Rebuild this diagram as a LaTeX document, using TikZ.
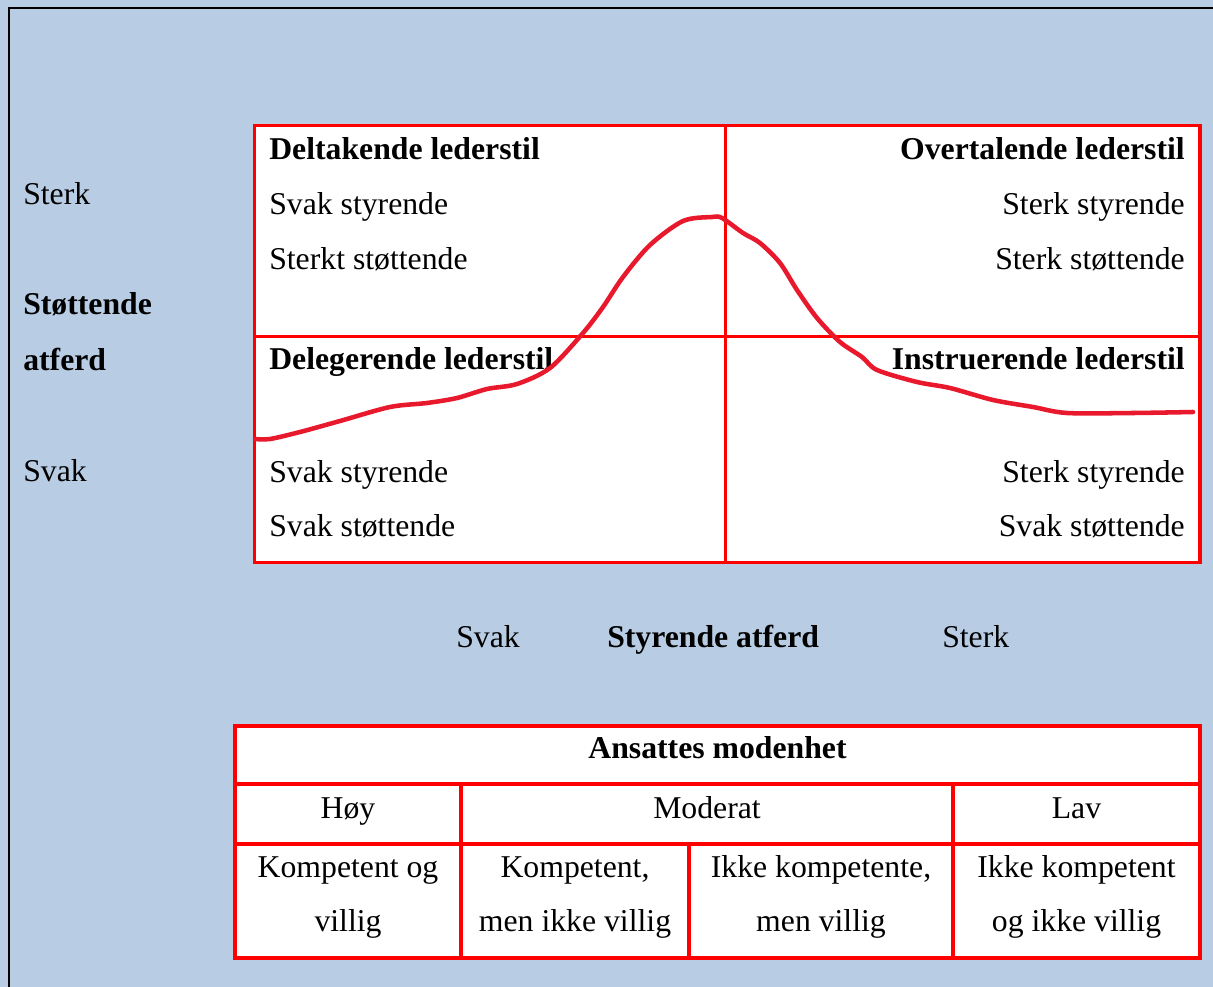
\documentclass[tikz,border=0pt]{standalone}
\usepackage{fontspec}
\setmainfont{Liberation Serif}
\definecolor{bgblue}{HTML}{B8CCE4}
\definecolor{gridred}{HTML}{FF0000}
\definecolor{curvered}{HTML}{E8192C}
\begin{document}
\begin{tikzpicture}[x=0.75pt, y=-0.75pt,
  txt/.style={inner sep=0pt, font=\fontsize{23.8}{41.25}\selectfont},
  lt/.style={txt, anchor=base west},
  rt/.style={txt, anchor=base east},
  ct/.style={txt, anchor=base},
  bold/.style={font=\fontsize{23.8}{41.25}\selectfont\bfseries},
  outer/.style={draw=gridred, line width=2.6pt, fill=white},
  inner/.style={draw=gridred, line width=2.3pt},
  tab/.style={draw=gridred, line width=3pt}]
\useasboundingbox (0,0) rectangle (1213,987);
% page background and frame
\fill[bgblue] (0,0) rectangle (1213,987);
\draw[black, line width=1.8pt] (9,987) -- (9,8) -- (1213,8);

% quadrant grid
\draw[outer] (254.5,125.5) rectangle (1200,562.5);
\draw[inner] (725.5,125.5) -- (725.5,562.5);
\draw[inner] (254.5,336.5) -- (1200,336.5);

% quadrant texts
\node[lt, bold] (q1h) at (269,160) {Deltakende lederstil};
\node[lt] (q1a) at (269,215) {Svak styrende};
\node[lt] (q1b) at (269,270) {Sterkt støttende};
\node[rt, bold] (q2h) at (1185,160) {Overtalende lederstil};
\node[rt] (q2a) at (1185,215) {Sterk styrende};
\node[rt] (q2b) at (1185,270) {Sterk støttende};
\node[lt, bold] (q3h) at (269,369) {Delegerende lederstil};
\node[lt] (q3a) at (269,482) {Svak styrende};
\node[lt] (q3b) at (269,536) {Svak støttende};
\node[rt, bold] (q4h) at (1185,369) {Instruerende lederstil};
\node[rt] (q4a) at (1185,482) {Sterk styrende};
\node[rt] (q4b) at (1185,536) {Svak støttende};

% development curve
\draw[curvered, line width=3.4pt, line cap=round, line join=round]
  plot[smooth, tension=0.5] coordinates {
  (255,439) (270,439) (300,432) (340,421) (390,407) (427,403) (457,398)
  (487,389) (517,384) (550,368) (583,333) (603,307) (623,277) (650,245)
  (683,221) (712,217) (722,218) (743,233) (760,243) (780,263) (797,290)
  (817,318) (840,342) (862,357) (877,370) (917,382) (950,388) (993,400)
  (1033,407) (1067,413) (1133,413) (1193,412)};

% vertical axis labels
\node[lt] (ysterk) at (23,205) {Sterk};
\node[lt, bold] (ylab1) at (23,315) {Støttende};
\node[lt, bold] (ylab2) at (23,370) {atferd};
\node[lt] (ysvak) at (23,481) {Svak};

% horizontal axis labels
\node[lt] (xsvak) at (456,647) {Svak};
\node[lt, bold] (xlab) at (607,647) {Styrende atferd};
\node[lt] (xsterk) at (942,647) {Sterk};

% maturity table
\draw[tab, fill=white] (235,726) rectangle (1200,958);
\draw[tab] (235,784) -- (1200,784);
\draw[tab] (235,844) -- (1200,844);
\draw[tab] (461,784) -- (461,958);
\draw[tab] (953,784) -- (953,958);
\draw[tab] (689,844) -- (689,958);

\node[ct, bold] (thead) at (717.5,758) {Ansattes modenhet};
\node[ct] (thoy) at (348,818) {Høy};
\node[ct] (tmod) at (707,818) {Moderat};
\node[ct] (tlav) at (1076.5,818) {Lav};

\node[ct] (c1a) at (348,877) {Kompetent og};
\node[ct] (c1b) at (348,931) {villig};
\node[ct] (c2a) at (575,877) {Kompetent,};
\node[ct] (c2b) at (575,931) {men ikke villig};
\node[ct] (c3a) at (821,877) {Ikke kompetente,};
\node[ct] (c3b) at (821,931) {men villig};
\node[ct] (c4a) at (1076.5,877) {Ikke kompetent};
\node[ct] (c4b) at (1076.5,931) {og ikke villig};
\end{tikzpicture}
\end{document}
